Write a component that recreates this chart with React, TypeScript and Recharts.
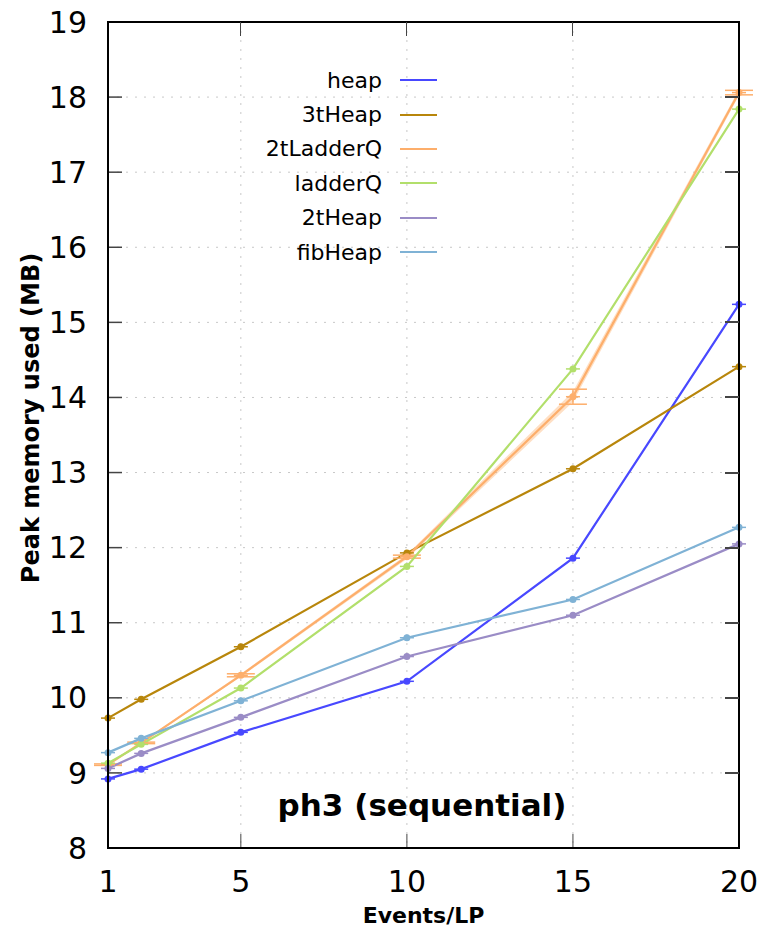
import {
  ComposedChart,
  Line,
  Area,
  XAxis,
  YAxis,
  CartesianGrid,
  ErrorBar,
  Label,
} from 'recharts';

const FONT = '"DejaVu Sans", sans-serif';

const events = [1, 2, 5, 10, 15, 20];

const heap = [8.92, 9.05, 9.54, 10.22, 11.86, 15.24];
const threeTHeap = [9.73, 9.98, 10.68, 11.93, 13.05, 14.41];
const twoTLadderQ = [9.11, 9.4, 10.3, 11.88, 14.01, 18.06];
const ladderQ = [9.13, 9.38, 10.13, 11.75, 14.38, 17.84];
const twoTHeap = [9.06, 9.26, 9.74, 10.55, 11.1, 12.05];
const fibHeap = [9.27, 9.46, 9.96, 10.8, 11.31, 12.27];

// spread of the 2tLadderQ runs (shaded band + error bars)
const twoTLadderQBand = [0.01, 0.01, 0.02, 0.03, 0.07, 0.04];
const twoTLadderQErr = [0.01, 0.01, 0.02, 0.02, 0.1, 0.03];

const yTicks = [8, 9, 10, 11, 12, 13, 14, 15, 16, 17, 18, 19];
const xTicks = [1, 5, 10, 15, 20];
const X_MIN = 1;
const X_MAX = 20;
const Y_MIN = 8;
const Y_MAX = 19;

const series = [
  { key: 'heap', name: 'heap', color: '#4848ff', values: heap },
  { key: 'threeTHeap', name: '3tHeap', color: '#b8860b', values: threeTHeap },
  { key: 'twoTLadderQ', name: '2tLadderQ', color: '#fdae6b', values: twoTLadderQ },
  { key: 'ladderQ', name: 'ladderQ', color: '#b2df6b', values: ladderQ },
  { key: 'twoTHeap', name: '2tHeap', color: '#9a8cc6', values: twoTHeap },
  { key: 'fibHeap', name: 'fibHeap', color: '#7fb2d5', values: fibHeap },
];

const data = events.map((x, i) => {
  const row: Record<string, any> = { x };
  for (const s of series) row[s.key] = s.values[i];
  row.band = [twoTLadderQ[i] - twoTLadderQBand[i], twoTLadderQ[i] + twoTLadderQBand[i]];
  row.ladErr = twoTLadderQErr[i];
  return row;
});

// chart box
const W = 773;
const H = 931;
const M = { top: 22, right: 34, bottom: 0, left: 0 };
const Y_AXIS_W = 108;
const X_AXIS_H = 83;
const PLOT = {
  left: M.left + Y_AXIS_W,
  right: W - M.right,
  top: M.top,
  bottom: H - M.bottom - X_AXIS_H,
};
const TICK_LEN = 14;

// gnuplot-style point: filled dot with a short error-bar cap through it
const makeDot = (color: string) => (props: any) => {
  const { cx, cy, index } = props;
  if (cx == null || cy == null) return <g key={index} />;
  return (
    <g key={index}>
      <line x1={cx - 7} x2={cx + 7} y1={cy} y2={cy} stroke={color} strokeWidth={1.5} />
      <circle cx={cx} cy={cy} r={3.5} fill={color} />
    </g>
  );
};

// border box with mirrored ticks on the top and right edges
const px = (v: number) => PLOT.left + ((v - X_MIN) / (X_MAX - X_MIN)) * (PLOT.right - PLOT.left);
const py = (v: number) => PLOT.bottom - ((v - Y_MIN) / (Y_MAX - Y_MIN)) * (PLOT.bottom - PLOT.top);

const Frame = () => (
  <div style={{ position: 'absolute', left: 0, top: 0, width: W, height: H, pointerEvents: 'none' }}>
    <div
      style={{
        position: 'absolute',
        boxSizing: 'border-box',
        left: PLOT.left - 1,
        top: PLOT.top - 1,
        width: PLOT.right - PLOT.left + 2,
        height: PLOT.bottom - PLOT.top + 2,
        border: '2px solid #000',
      }}
    />
    {yTicks.slice(1, -1).map((t) => (
      <div
        key={`r${t}`}
        style={{
          position: 'absolute',
          left: PLOT.right - TICK_LEN,
          top: py(t) - 1,
          width: TICK_LEN,
          height: 2,
          background: '#444',
        }}
      />
    ))}
    {xTicks.slice(1, -1).map((t) => (
      <div
        key={`t${t}`}
        style={{
          position: 'absolute',
          left: px(t) - 0.5,
          top: PLOT.top,
          width: 1,
          height: TICK_LEN,
          background: '#444',
        }}
      />
    ))}
  </div>
);

const KeyBox = () => (
  <div
    style={{
      position: 'absolute',
      left: 230,
      top: 63,
      fontFamily: FONT,
      fontSize: 22,
      color: '#000',
    }}
  >
    {series.map((s) => (
      <div key={s.key} style={{ display: 'flex', alignItems: 'center', height: 34.4 }}>
        <span style={{ width: 152, textAlign: 'right' }}>{s.name}</span>
        <span
          style={{ marginLeft: 18, width: 37, height: 2, background: s.color, display: 'inline-block' }}
        />
      </div>
    ))}
  </div>
);

const YTitle = (props: any) => {
  const { viewBox } = props;
  const cx = viewBox.x + 31;
  const cy = viewBox.y + viewBox.height / 2 - 17;
  return (
    <text
      x={cx}
      y={cy}
      transform={`rotate(-90, ${cx}, ${cy})`}
      textAnchor="middle"
      dominantBaseline="central"
      fontFamily={FONT}
      fontWeight="bold"
      fontSize={24}
      fill="#000"
    >
      Peak memory used (MB)
    </text>
  );
};

export default function App() {
  const tickStyle = { fontFamily: FONT, fontSize: 30, fill: '#000' };
  const axisStroke = { stroke: '#000', strokeWidth: 1.5 };
  return (
    <div style={{ position: 'absolute', left: 0, top: 0, width: W, height: H, background: '#fff' }}>
      <ComposedChart width={W} height={H} data={data} margin={M}>
        <CartesianGrid stroke="#c8c8c8" strokeDasharray="2 7" strokeWidth={1} />
        <XAxis
          dataKey="x"
          type="number"
          domain={[X_MIN, X_MAX]}
          ticks={xTicks}
          height={X_AXIS_H}
          tick={tickStyle}
          tickSize={-TICK_LEN}
          tickMargin={37}
          axisLine={axisStroke}
          tickLine={{ stroke: '#444', strokeWidth: 1 }}
        >
          <Label
            value="Events/LP"
            position="insideBottom"
            offset={8}
            style={{ fontFamily: FONT, fontWeight: 'bold', fontSize: 22, fill: '#000' }}
          />
        </XAxis>
        <YAxis
          type="number"
          domain={[Y_MIN, Y_MAX]}
          ticks={yTicks}
          width={Y_AXIS_W}
          tick={tickStyle}
          tickSize={-TICK_LEN}
          tickMargin={35}
          axisLine={axisStroke}
          tickLine={{ stroke: '#444', strokeWidth: 1.5 }}
          interval={0}
        >
          <Label content={<YTitle />} />
        </YAxis>
        <Area
          dataKey="band"
          stroke="none"
          fill="#fdae6b"
          fillOpacity={0.4}
          legendType="none"
          isAnimationActive={false}
        />
        {series.map((s) => (
          <Line
            key={s.key}
            dataKey={s.key}
            name={s.name}
            type="linear"
            stroke={s.color}
            strokeWidth={2.2}
            dot={makeDot(s.color)}
            activeDot={false}
            isAnimationActive={false}
          >
            {s.key === 'twoTLadderQ' && (
              <ErrorBar dataKey="ladErr" width={14} stroke={s.color} strokeWidth={1.5} direction="y" />
            )}
          </Line>
        ))}
      </ComposedChart>
      <Frame />
      <KeyBox />
      <div
        style={{
          position: 'absolute',
          left: 222,
          width: 400,
          top: 787,
          textAlign: 'center',
          fontFamily: FONT,
          fontWeight: 'bold',
          fontSize: 31,
          lineHeight: '36px',
          color: '#000',
        }}
      >
        ph3 (sequential)
      </div>
    </div>
  );
}
